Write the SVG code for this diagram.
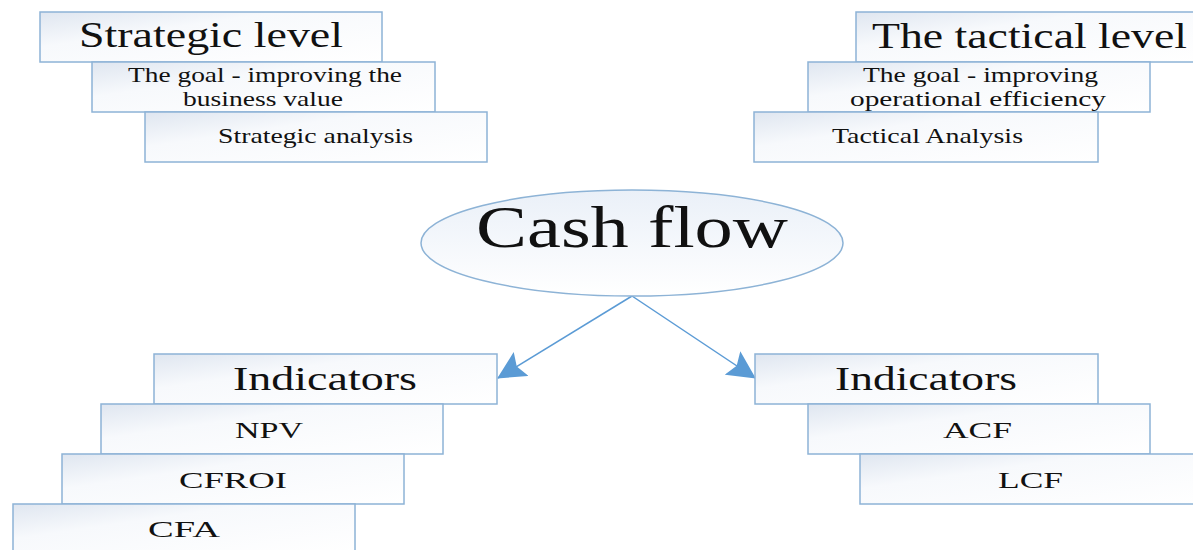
<svg xmlns="http://www.w3.org/2000/svg" width="1193" height="550" viewBox="0 0 1193 550">
<defs>
<linearGradient id="boxg" x1="0" y1="0" x2="1" y2="1">
<stop offset="0" stop-color="#dfe6f0"/>
<stop offset="0.35" stop-color="#f7f9fc"/>
<stop offset="1" stop-color="#ffffff"/>
</linearGradient>
<linearGradient id="ellg" x1="0" y1="0" x2="0" y2="1">
<stop offset="0" stop-color="#eaf0f8"/>
<stop offset="1" stop-color="#ffffff"/>
</linearGradient>
<marker id="arr" viewBox="0 0 28 28" refX="27" refY="14" markerWidth="28" markerHeight="28" markerUnits="userSpaceOnUse" orient="auto">
<path d="M0,0 L28,14 L0,28 L5,14 Z" fill="#5b9bd5"/>
</marker>
</defs>
<style>
.box{fill:url(#boxg);stroke:#8db3d6;stroke-width:1.5}
text{font-family:'Liberation Serif','Times New Roman',Times,serif;fill:#111}
.conn{stroke:#5b9bd5;stroke-width:1.5;fill:none}
</style>
<rect width="1193" height="550" fill="#ffffff"/>

<g id="connectors">
<line class="conn" x1="632" y1="296" x2="498" y2="378" marker-end="url(#arr)"/>
<line class="conn" x1="632" y1="296" x2="755" y2="378" marker-end="url(#arr)"/>
</g>

<g id="strategic-level">
<rect class="box" x="40" y="12" width="342" height="50"/>
<text x="79" y="47" font-size="35" textLength="264" lengthAdjust="spacingAndGlyphs">Strategic level</text>
</g>
<g id="strategic-goal">
<rect class="box" x="92" y="62" width="343" height="50"/>
<text x="128" y="82" font-size="21" textLength="274" lengthAdjust="spacingAndGlyphs">The goal - improving the</text>
<text x="183" y="106" font-size="21" textLength="160" lengthAdjust="spacingAndGlyphs">business value</text>
</g>
<g id="strategic-analysis">
<rect class="box" x="145" y="112" width="342" height="50"/>
<text x="218" y="143" font-size="21" textLength="195" lengthAdjust="spacingAndGlyphs">Strategic analysis</text>
</g>

<g id="tactical-level">
<rect class="box" x="856" y="12" width="345" height="50"/>
<text x="872" y="48" font-size="35" textLength="315" lengthAdjust="spacingAndGlyphs">The tactical level</text>
</g>
<g id="tactical-goal">
<rect class="box" x="808" y="62" width="342" height="50"/>
<text x="863" y="82" font-size="21" textLength="235" lengthAdjust="spacingAndGlyphs">The goal - improving</text>
<text x="850" y="106" font-size="21" textLength="256" lengthAdjust="spacingAndGlyphs">operational efficiency</text>
</g>
<g id="tactical-analysis">
<rect class="box" x="754" y="112" width="344" height="50"/>
<text x="832" y="143" font-size="21" textLength="191" lengthAdjust="spacingAndGlyphs">Tactical Analysis</text>
</g>

<g id="cash-flow">
<ellipse cx="632" cy="243" rx="211" ry="53" fill="url(#ellg)" stroke="#8db3d6" stroke-width="1.5"/>
<text x="476" y="247" font-size="60" textLength="312" lengthAdjust="spacingAndGlyphs">Cash flow</text>
</g>

<g id="indicators-left">
<rect class="box" x="154" y="354" width="343" height="50"/>
<text x="233" y="390" font-size="33" textLength="184" lengthAdjust="spacingAndGlyphs">Indicators</text>
</g>
<g id="npv">
<rect class="box" x="101" y="404" width="342" height="50"/>
<text x="235" y="438" font-size="24" textLength="68" lengthAdjust="spacingAndGlyphs">NPV</text>
</g>
<g id="cfroi">
<rect class="box" x="62" y="454" width="342" height="50"/>
<text x="179" y="488" font-size="24" textLength="108" lengthAdjust="spacingAndGlyphs">CFROI</text>
</g>
<g id="cfa">
<rect class="box" x="13" y="504" width="342" height="50"/>
<text x="148" y="537" font-size="24" textLength="72" lengthAdjust="spacingAndGlyphs">CFA</text>
</g>

<g id="indicators-right">
<rect class="box" x="755" y="354" width="343" height="50"/>
<text x="835" y="390" font-size="33" textLength="182" lengthAdjust="spacingAndGlyphs">Indicators</text>
</g>
<g id="acf">
<rect class="box" x="808" y="404" width="342" height="50"/>
<text x="943" y="438" font-size="24" textLength="69" lengthAdjust="spacingAndGlyphs">ACF</text>
</g>
<g id="lcf">
<rect class="box" x="860" y="454" width="345" height="50"/>
<text x="998" y="488" font-size="24" textLength="65" lengthAdjust="spacingAndGlyphs">LCF</text>
</g>
</svg>
